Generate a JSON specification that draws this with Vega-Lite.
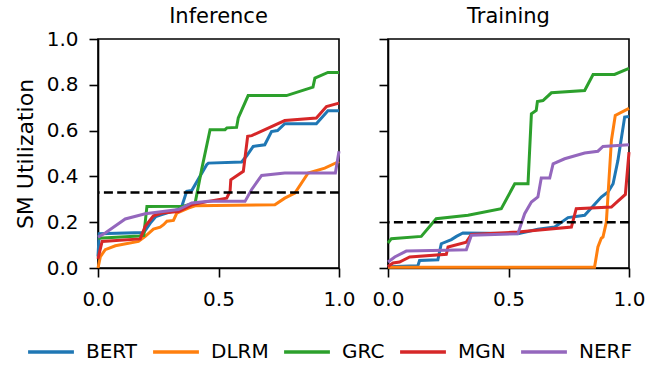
{
  "$schema": "https://vega.github.io/schema/vega-lite/v6.json",
  "padding": {"left": 13, "top": 4, "right": 0, "bottom": 0},
  "datasets": {
    "inf": [
      {"m":"BERT","x":0,"y":0.05},{"m":"BERT","x":0.005,"y":0.15},{"m":"BERT","x":0.19,"y":0.155},{"m":"BERT","x":0.217,"y":0.196},{"m":"BERT","x":0.24,"y":0.225},{"m":"BERT","x":0.265,"y":0.233},{"m":"BERT","x":0.33,"y":0.255},{"m":"BERT","x":0.348,"y":0.27},{"m":"BERT","x":0.368,"y":0.335},{"m":"BERT","x":0.389,"y":0.338},{"m":"BERT","x":0.451,"y":0.451},{"m":"BERT","x":0.458,"y":0.458},{"m":"BERT","x":0.596,"y":0.463},{"m":"BERT","x":0.617,"y":0.49},{"m":"BERT","x":0.644,"y":0.531},{"m":"BERT","x":0.692,"y":0.538},{"m":"BERT","x":0.72,"y":0.596},{"m":"BERT","x":0.745,"y":0.6},{"m":"BERT","x":0.775,"y":0.63},{"m":"BERT","x":0.906,"y":0.63},{"m":"BERT","x":0.954,"y":0.687},{"m":"BERT","x":1.0,"y":0.687},
      {"m":"DLRM","x":0,"y":0.0},{"m":"DLRM","x":0.01,"y":0.05},{"m":"DLRM","x":0.03,"y":0.08},{"m":"DLRM","x":0.072,"y":0.097},{"m":"DLRM","x":0.168,"y":0.116},{"m":"DLRM","x":0.196,"y":0.138},{"m":"DLRM","x":0.23,"y":0.17},{"m":"DLRM","x":0.258,"y":0.178},{"m":"DLRM","x":0.272,"y":0.189},{"m":"DLRM","x":0.286,"y":0.204},{"m":"DLRM","x":0.313,"y":0.208},{"m":"DLRM","x":0.327,"y":0.24},{"m":"DLRM","x":0.375,"y":0.262},{"m":"DLRM","x":0.403,"y":0.272},{"m":"DLRM","x":0.734,"y":0.276},{"m":"DLRM","x":0.775,"y":0.305},{"m":"DLRM","x":0.817,"y":0.327},{"m":"DLRM","x":0.872,"y":0.415},{"m":"DLRM","x":0.941,"y":0.436},{"m":"DLRM","x":1.0,"y":0.465},
      {"m":"GRC","x":0,"y":0.13},{"m":"GRC","x":0.17,"y":0.14},{"m":"GRC","x":0.19,"y":0.142},{"m":"GRC","x":0.203,"y":0.269},{"m":"GRC","x":0.354,"y":0.27},{"m":"GRC","x":0.403,"y":0.284},{"m":"GRC","x":0.43,"y":0.43},{"m":"GRC","x":0.465,"y":0.604},{"m":"GRC","x":0.527,"y":0.604},{"m":"GRC","x":0.535,"y":0.612},{"m":"GRC","x":0.575,"y":0.614},{"m":"GRC","x":0.582,"y":0.655},{"m":"GRC","x":0.623,"y":0.753},{"m":"GRC","x":0.782,"y":0.753},{"m":"GRC","x":0.892,"y":0.79},{"m":"GRC","x":0.9,"y":0.829},{"m":"GRC","x":0.954,"y":0.854},{"m":"GRC","x":1.0,"y":0.854},
      {"m":"MGN","x":0,"y":0.04},{"m":"MGN","x":0.017,"y":0.116},{"m":"MGN","x":0.175,"y":0.127},{"m":"MGN","x":0.196,"y":0.182},{"m":"MGN","x":0.23,"y":0.228},{"m":"MGN","x":0.265,"y":0.24},{"m":"MGN","x":0.334,"y":0.247},{"m":"MGN","x":0.389,"y":0.276},{"m":"MGN","x":0.458,"y":0.291},{"m":"MGN","x":0.534,"y":0.305},{"m":"MGN","x":0.548,"y":0.335},{"m":"MGN","x":0.551,"y":0.385},{"m":"MGN","x":0.603,"y":0.422},{"m":"MGN","x":0.621,"y":0.575},{"m":"MGN","x":0.638,"y":0.578},{"m":"MGN","x":0.775,"y":0.644},{"m":"MGN","x":0.906,"y":0.655},{"m":"MGN","x":0.948,"y":0.705},{"m":"MGN","x":1.0,"y":0.72},
      {"m":"NERF","x":0,"y":0.135},{"m":"NERF","x":0.03,"y":0.153},{"m":"NERF","x":0.113,"y":0.214},{"m":"NERF","x":0.196,"y":0.237},{"m":"NERF","x":0.334,"y":0.255},{"m":"NERF","x":0.389,"y":0.284},{"m":"NERF","x":0.458,"y":0.291},{"m":"NERF","x":0.61,"y":0.291},{"m":"NERF","x":0.637,"y":0.342},{"m":"NERF","x":0.679,"y":0.404},{"m":"NERF","x":0.775,"y":0.415},{"m":"NERF","x":0.985,"y":0.415},{"m":"NERF","x":1.0,"y":0.51}
    ],
    "trn": [
      {"m":"BERT","x":0,"y":0.005},{"m":"BERT","x":0.124,"y":0.01},{"m":"BERT","x":0.131,"y":0.033},{"m":"BERT","x":0.207,"y":0.036},{"m":"BERT","x":0.221,"y":0.106},{"m":"BERT","x":0.263,"y":0.124},{"m":"BERT","x":0.284,"y":0.138},{"m":"BERT","x":0.311,"y":0.153},{"m":"BERT","x":0.539,"y":0.15},{"m":"BERT","x":0.622,"y":0.169},{"m":"BERT","x":0.692,"y":0.179},{"m":"BERT","x":0.747,"y":0.22},{"m":"BERT","x":0.816,"y":0.23},{"m":"BERT","x":0.885,"y":0.31},{"m":"BERT","x":0.913,"y":0.332},{"m":"BERT","x":0.934,"y":0.368},{"m":"BERT","x":0.954,"y":0.47},{"m":"BERT","x":0.982,"y":0.659},{"m":"BERT","x":1.0,"y":0.662},
      {"m":"DLRM","x":0,"y":0.003},{"m":"DLRM","x":0.857,"y":0.003},{"m":"DLRM","x":0.871,"y":0.092},{"m":"DLRM","x":0.885,"y":0.13},{"m":"DLRM","x":0.892,"y":0.135},{"m":"DLRM","x":0.906,"y":0.2},{"m":"DLRM","x":0.927,"y":0.557},{"m":"DLRM","x":0.943,"y":0.666},{"m":"DLRM","x":1.0,"y":0.697},
      {"m":"GRC","x":0,"y":0.109},{"m":"GRC","x":0.014,"y":0.128},{"m":"GRC","x":0.138,"y":0.138},{"m":"GRC","x":0.2,"y":0.215},{"m":"GRC","x":0.332,"y":0.23},{"m":"GRC","x":0.47,"y":0.259},{"m":"GRC","x":0.526,"y":0.368},{"m":"GRC","x":0.581,"y":0.368},{"m":"GRC","x":0.595,"y":0.673},{"m":"GRC","x":0.615,"y":0.688},{"m":"GRC","x":0.62,"y":0.727},{"m":"GRC","x":0.643,"y":0.731},{"m":"GRC","x":0.678,"y":0.765},{"m":"GRC","x":0.816,"y":0.775},{"m":"GRC","x":0.851,"y":0.845},{"m":"GRC","x":0.94,"y":0.845},{"m":"GRC","x":1.0,"y":0.872},
      {"m":"MGN","x":0,"y":0.005},{"m":"MGN","x":0.007,"y":0.012},{"m":"MGN","x":0.021,"y":0.022},{"m":"MGN","x":0.048,"y":0.026},{"m":"MGN","x":0.09,"y":0.048},{"m":"MGN","x":0.242,"y":0.06},{"m":"MGN","x":0.249,"y":0.092},{"m":"MGN","x":0.325,"y":0.113},{"m":"MGN","x":0.346,"y":0.147},{"m":"MGN","x":0.539,"y":0.157},{"m":"MGN","x":0.761,"y":0.179},{"m":"MGN","x":0.781,"y":0.259},{"m":"MGN","x":0.927,"y":0.266},{"m":"MGN","x":0.954,"y":0.292},{"m":"MGN","x":0.985,"y":0.321},{"m":"MGN","x":1.0,"y":0.506},
      {"m":"NERF","x":0,"y":0.026},{"m":"NERF","x":0.028,"y":0.048},{"m":"NERF","x":0.076,"y":0.074},{"m":"NERF","x":0.235,"y":0.077},{"m":"NERF","x":0.325,"y":0.08},{"m":"NERF","x":0.346,"y":0.143},{"m":"NERF","x":0.539,"y":0.15},{"m":"NERF","x":0.567,"y":0.237},{"m":"NERF","x":0.595,"y":0.288},{"m":"NERF","x":0.622,"y":0.31},{"m":"NERF","x":0.636,"y":0.393},{"m":"NERF","x":0.671,"y":0.393},{"m":"NERF","x":0.685,"y":0.455},{"m":"NERF","x":0.733,"y":0.477},{"m":"NERF","x":0.816,"y":0.502},{"m":"NERF","x":0.871,"y":0.51},{"m":"NERF","x":0.892,"y":0.531},{"m":"NERF","x":1.0,"y":0.538}
    ],
    "infThr": [{"y":0.33}],
    "trnThr": [{"y":0.2}]
  },
  "spacing": 15,
  "hconcat": [
    {
      "width": 241, "height": 229,
      "title": {"text": "Inference", "offset": 2},
      "layer": [
        {
          "data": {"name": "inf"},
          "mark": {"type": "line", "strokeWidth": 3},
          "encoding": {
            "x": {"field": "x", "type": "quantitative", "scale": {"domain": [0, 1], "nice": false}, "axis": {"title": null, "values": [0, 0.5, 1], "format": ".1f", "labelFlush": false, "labelPadding": 12}},
            "y": {"field": "y", "type": "quantitative", "scale": {"domain": [0, 1], "nice": false}, "axis": {"title": "SM Utilization", "values": [0, 0.2, 0.4, 0.6, 0.8, 1.0], "format": ".1f", "labelFlush": false, "labelPadding": 11, "titleFontSize": 22, "titlePadding": 9}},
            "color": {"field": "m", "type": "nominal", "scale": {"domain": ["BERT","DLRM","GRC","MGN","NERF"], "range": ["#1f77b4","#ff7f0e","#2ca02c","#d62728","#9467bd"]}, "legend": {"title": null, "orient": "none", "legendX": -72, "legendY": 288}}
          }
        },
        {
          "data": {"name": "infThr"},
          "mark": {"type": "rule", "color": "black", "strokeWidth": 2.6, "strokeDash": [9, 4.3]},
          "encoding": {"y": {"field": "y", "type": "quantitative"}}
        }
      ]
    },
    {
      "width": 241, "height": 229,
      "title": {"text": "Training", "offset": 11.5},
      "layer": [
        {
          "data": {"name": "trn"},
          "mark": {"type": "line", "strokeWidth": 3},
          "encoding": {
            "x": {"field": "x", "type": "quantitative", "scale": {"domain": [0, 1], "nice": false}, "axis": {"title": null, "values": [0, 0.5, 1], "format": ".1f", "labelFlush": false, "labelPadding": 12}},
            "y": {"field": "y", "type": "quantitative", "scale": {"domain": [0, 1], "nice": false}, "axis": {"title": null, "values": [0, 0.2, 0.4, 0.6, 0.8, 1.0], "labels": false}},
            "color": {"field": "m", "type": "nominal", "legend": {"title": null, "orient": "none", "legendX": -72, "legendY": 288}}
          }
        },
        {
          "data": {"name": "trnThr"},
          "mark": {"type": "rule", "color": "black", "strokeWidth": 2.6, "strokeDash": [9, 4.3]},
          "encoding": {"y": {"field": "y", "type": "quantitative"}}
        }
      ]
    }
  ],
  "config": {
    "font": "DejaVu Sans",
    "view": {"stroke": "black", "strokeWidth": 1.6},
    "axis": {"grid": false, "domainColor": "black", "domainWidth": 1.6, "tickColor": "black", "tickWidth": 1.6, "tickSize": 9, "labelFontSize": 20, "labelColor": "black", "titleFontSize": 20, "titleFontWeight": "normal", "titleColor": "black"},
    "title": {"fontSize": 21, "fontWeight": "normal", "color": "black", "baseline": "alphabetic"},
    "legend": {"direction": "horizontal", "symbolType": "stroke", "symbolSize": 2100, "symbolStrokeWidth": 3.5, "labelFontSize": 20, "labelColor": "black", "labelOffset": 10, "columnPadding": 8, "padding": 0}
  }
}
